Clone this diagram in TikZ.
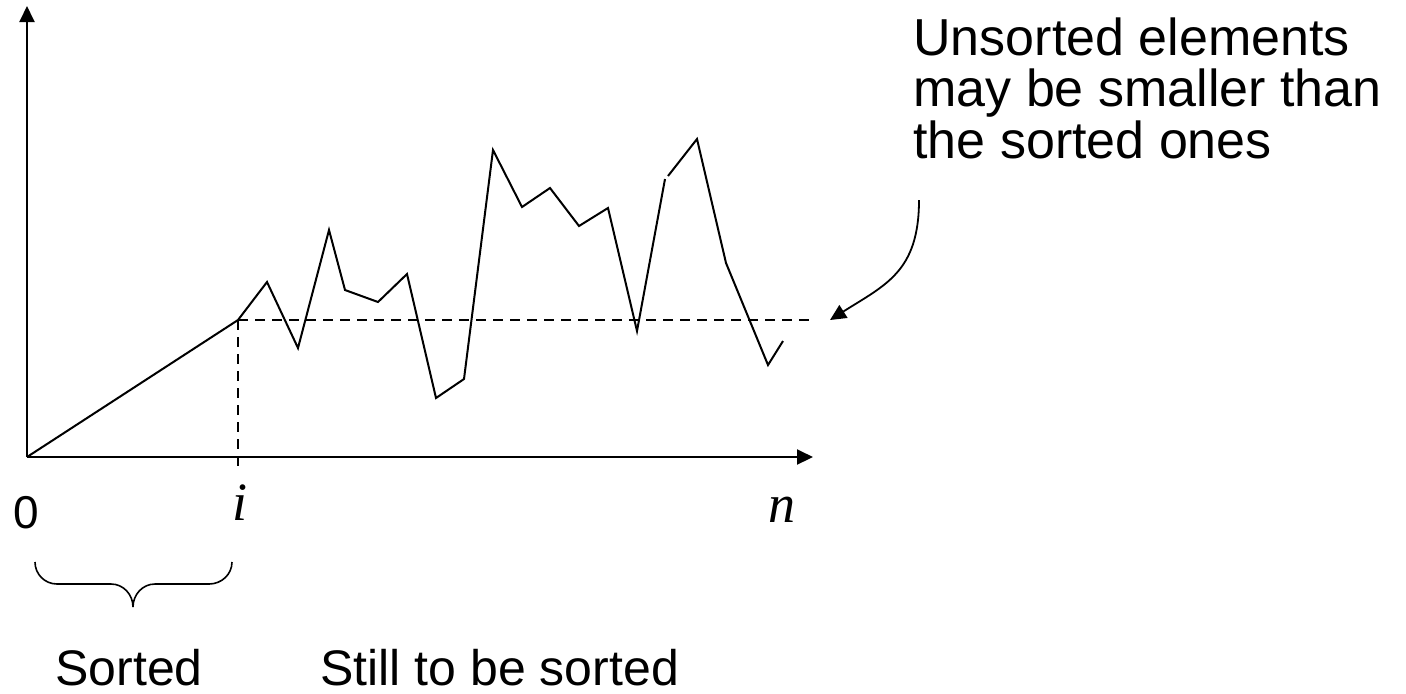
\documentclass[tikz,border=0pt]{standalone}
\usepackage{fontspec}
\setmainfont{Liberation Sans}
\newfontfamily\serifit{Liberation Serif}
\usetikzlibrary{arrows.meta}
\begin{document}
\begin{tikzpicture}[x=0.5pt,y=-0.5pt,
  ln/.style={line width=1pt,line join=miter},
  dsh/.style={line width=0.9pt,dash pattern=on 5pt off 3.5pt},
  tip/.style={-{Triangle[length=8pt,width=7.5pt]}},
  lbl/.style={font=\fontsize{25}{26}\selectfont,inner sep=0pt},
  mlbl/.style={font=\fontsize{27}{28}\serifit\itshape,inner sep=0pt}]
\useasboundingbox (0,0) rectangle (1406,693);
% axes
\coordinate (O) at (27,457);
\coordinate (ytop) at (27,6);
\coordinate (xend) at (813,457);
\draw[ln,tip] (O) -- (ytop);
\draw[ln,tip] (O) -- (xend);
% data points
\coordinate (p1) at (238,320);
\coordinate (hend) at (815,320);
\coordinate (vend) at (238,470);
\draw[dsh] (p1) -- (hend);
\draw[dsh] (p1) -- (vend);
\draw[ln] (O) -- (p1) -- (267,282) -- (298,348) -- (329,230) -- (345,290) -- (378,302)
  -- (407,274) -- (436,398) -- (464,379) -- (493,150) -- (522,207) -- (550,188)
  -- (579,226) -- (608,208) -- (637,331) -- (665,179);
\draw[ln] (668,176) -- (697,139) -- (726,263) -- (768,365) -- (783,341);
% labels
\node[lbl,font=\fontsize{23}{24}\selectfont,anchor=base] (zero) at (26,528) {0};
\node[mlbl,anchor=base] (ilab) at (240,520) {i};
\node[mlbl,anchor=base] (nlab) at (782,522) {n};
% brace
\coordinate (bl) at (35,562);
\coordinate (br) at (232,562);
\coordinate (bm) at (133,607);
\draw[line width=0.8pt] (bl) to[out=-90,in=180] (57,584) -- (111,584) to[out=0,in=90] (bm);
\draw[line width=0.8pt] (br) to[out=-90,in=0] (209,584) -- (155,584) to[out=180,in=90] (bm);
\node[lbl,anchor=base] (sorted) at (129,685) {Sorted};
\node[lbl,anchor=base west] (still) at (320,685) {Still to be sorted};
% note
\node[lbl,font=\fontsize{26}{25.8}\selectfont,anchor=north west,align=left] (note) at (913,17) {Unsorted elements\\may be smaller than\\the sorted ones};
\coordinate (cs) at (919,200);
\coordinate (ce) at (830,320);
\draw[line width=0.9pt,tip] (cs) .. controls (919,272) and (885,285) .. (ce);
\end{tikzpicture}
\end{document}
